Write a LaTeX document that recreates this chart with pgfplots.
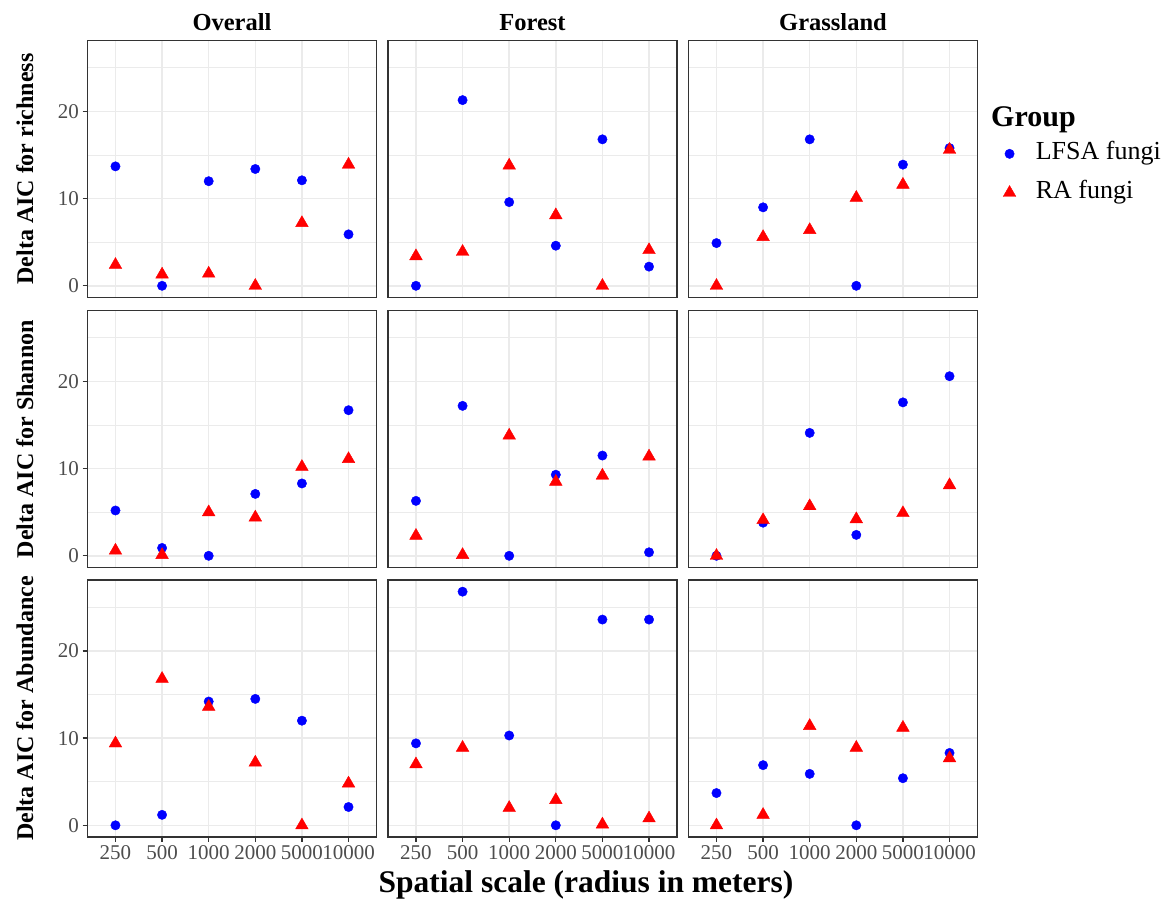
\documentclass[border=0pt]{standalone}
\usepackage{pgfplots}
\pgfplotsset{compat=1.18}
\usepackage{pgfplotstable}
\usepackage{fontspec}
\setmainfont{Liberation Serif}
\definecolor{gridc}{HTML}{EBEBEB}
\definecolor{tickc}{HTML}{4D4D4D}
\definecolor{framec}{HTML}{333333}

% Row 1: richness
\pgfplotstableread{
x lfsa ra
0 13.7 2.4
1 0    1.3
2 12.0 1.4
3 13.4 0
4 12.1 7.2
5 5.9  13.9
}\tOvR
\pgfplotstableread{
x lfsa ra
0 0    3.4
1 21.3 3.9
2 9.6  13.8
3 4.6  8.1
4 16.8 0
5 2.2  4.1
}\tFoR
\pgfplotstableread{
x lfsa ra
0 4.9  0
1 9.0  5.6
2 16.8 6.4
3 0    10.1
4 13.9 11.6
5 15.8 15.6
}\tGrR
% Row 2: Shannon
\pgfplotstableread{
x lfsa ra
0 5.2  0.6
1 0.9  0.1
2 0    5.0
3 7.1  4.4
4 8.3  10.2
5 16.7 11.1
}\tOvS
\pgfplotstableread{
x lfsa ra
0 6.3  2.3
1 17.2 0.1
2 0    13.8
3 9.3  8.5
4 11.5 9.2
5 0.4  11.4
}\tFoS
\pgfplotstableread{
x lfsa ra
0 0    0
1 3.8  4.1
2 14.1 5.7
3 2.4  4.2
4 17.6 4.9
5 20.6 8.1
}\tGrS
% Row 3: Abundance
\pgfplotstableread{
x lfsa ra
0 0    9.4
1 1.2  16.8
2 14.2 13.6
3 14.5 7.2
4 12.0 0
5 2.1  4.8
}\tOvA
\pgfplotstableread{
x lfsa ra
0 9.4  7.0
1 26.8 8.9
2 10.3 2.0
3 0    2.9
4 23.6 0.1
5 23.6 0.8
}\tFoA
\pgfplotstableread{
x lfsa ra
0 3.7  0
1 6.9  1.2
2 5.9  11.4
3 0    8.9
4 5.4  11.2
5 8.3  7.7
}\tGrA

\pgfplotsset{
  panel/.style={
    scale only axis, width=289pt, height=257pt, anchor=south west,
    xmin=-0.6, xmax=5.6, ymin=-1.34, ymax=28.14,
    xtick={0,1,2,3,4,5}, ytick={0,10,20}, minor ytick={5,15,25},
    xticklabels={}, yticklabels={},
    grid=both,
    major grid style={gridc, line width=1.5pt},
    minor grid style={gridc, line width=0.8pt},
    axis line style={framec, line width=1.3pt},
    xtick pos=bottom, ytick pos=left,
    tick align=outside, major tick length=5pt, minor tick length=0pt,
    tick style={framec, line width=1.3pt},
    tick label style={font=\fontsize{21}{21}\selectfont, text=tickc},
    /pgf/number format/assume math mode=true,
  },
  noxt/.style={every major x tick/.append style={draw=none}},
  noyt/.style={every major y tick/.append style={draw=none}},
  xlab/.style={xticklabels={250,500,1000,2000,5000,10000}},
  ylab/.style={yticklabels={0,10,20}},
  lfsa/.style={only marks, mark=*, mark size=4.7pt, color=blue, mark options={fill=blue, draw=none}},
  ra/.style={only marks, mark=triangle*, mark size=7.3pt, color=red, mark options={fill=red, draw=none}},
}

\newcommand{\panel}[4]{%
  \begin{axis}[panel, at={(#1pt,#2pt)}, #4]
    \addplot[lfsa] table[x=x, y=lfsa] {#3};
    \addplot[ra] table[x=x, y=ra] {#3};
  \end{axis}}

\begin{document}
\begin{tikzpicture}
\useasboundingbox (0,0) rectangle (1176pt,901pt);
% row 1
\panel{87.5}{603.5}{\tOvR}{noxt, ylab}
\panel{388}{603.5}{\tFoR}{noxt, noyt}
\panel{688.5}{603.5}{\tGrR}{noxt, noyt,
  legend entries={LFSA fungi, RA fungi},
  legend style={at={(1.078,0.622)}, anchor=north west, draw=none, fill=none,
    font=\fontsize{26}{26}\selectfont, row sep=11pt,
    nodes={inner sep=2pt, text height=18pt, text depth=6pt}},
  legend cell align=left,
  legend image code/.code={\path (-6pt,0pt) (24pt,0pt); \draw[#1] plot coordinates {(0pt,0pt)};}}
% row 2
\panel{87.5}{333.5}{\tOvS}{noxt, ylab}
\panel{388}{333.5}{\tFoS}{noxt, noyt}
\panel{688.5}{333.5}{\tGrS}{noxt, noyt}
% row 3
\panel{87.5}{64}{\tOvA}{xlab, ylab}
\panel{388}{64}{\tFoA}{xlab, noyt}
\panel{688.5}{64}{\tGrA}{xlab, noyt}

% strip labels (columns)
\node[anchor=base, font=\fontsize{24.5}{24.5}\selectfont\bfseries] at (232pt,870pt) {Overall};
\node[anchor=base, font=\fontsize{24.5}{24.5}\selectfont\bfseries] at (532.5pt,870pt) {Forest};
\node[anchor=base, font=\fontsize{24.5}{24.5}\selectfont\bfseries] at (833pt,870pt) {Grassland};
% strip labels (rows)
\node[anchor=base, rotate=90, font=\fontsize{24}{24}\selectfont\bfseries] at (33pt,732pt) {Delta AIC for richness};
\node[anchor=base, rotate=90, font=\fontsize{24}{24}\selectfont\bfseries] at (33pt,461.75pt) {Delta AIC for Shannon};
\node[anchor=base, rotate=90, font=\fontsize{24}{24}\selectfont\bfseries] at (33pt,192.5pt) {Delta AIC for Abundance};
% axis title
\node[anchor=base, font=\fontsize{31.5}{31.5}\selectfont\bfseries] at (586pt,8pt) {Spatial scale (radius in meters)};
% legend title
\node[anchor=base west, inner sep=0pt, font=\fontsize{30}{30}\selectfont\bfseries] at (991pt,774pt) {Group};
\end{tikzpicture}
\end{document}
